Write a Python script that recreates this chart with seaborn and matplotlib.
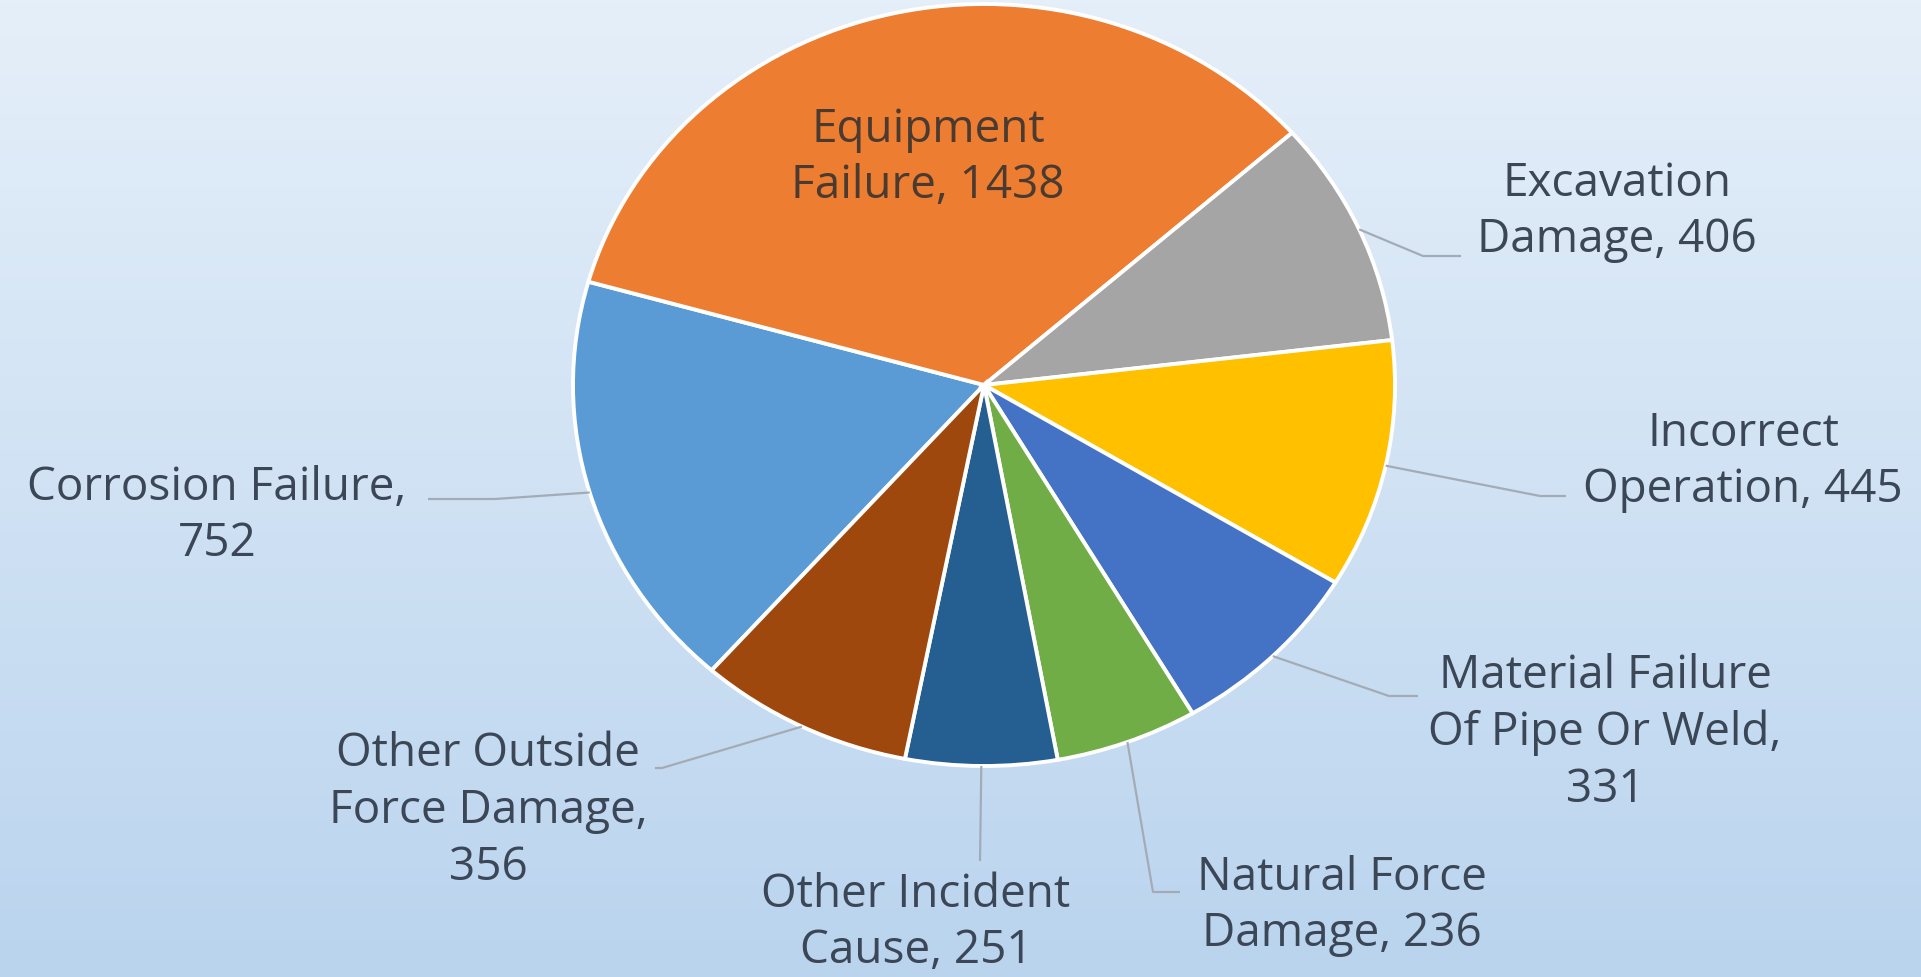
import numpy as np
import matplotlib.pyplot as plt
import matplotlib.font_manager as fm
from matplotlib.colors import LinearSegmentedColormap
import seaborn as sns

# data (Excel order, first slice = Corrosion)
causes = ['Corrosion Failure', 'Equipment Failure', 'Excavation Damage', 'Incorrect Operation',
          'Material Failure Of Pipe Or Weld', 'Natural Force Damage', 'Other Incident Cause',
          'Other Outside Force Damage']
counts = [752, 1438, 406, 445, 331, 236, 251, 356]
label_text = ['Corrosion Failure,\n752', 'Equipment\nFailure, 1438', 'Excavation\nDamage, 406',
              'Incorrect\nOperation, 445', 'Material Failure\nOf Pipe Or Weld,\n331',
              'Natural Force\nDamage, 236', 'Other Incident\nCause, 251',
              'Other Outside\nForce Damage,\n356']
colors = ['#5B9BD5', '#ED7D31', '#A5A5A5', '#FFC000', '#4472C4', '#70AD47', '#255E91', '#9E480E']

sns.set_style('white')
names = {f.name for f in fm.fontManager.ttflist}
fam = [f for f in ['Open Sans', 'DejaVu Sans'] if f in names]
plt.rcParams['font.family'] = fam

W, H = 1921, 978
cx, cy, rx, ry = 984, 386, 411, 381   # pie centre / radii in pixels


def px(x, y):
    return (x - cx) / rx, (cy - y) / ry


fig = plt.figure(figsize=(W / 100, H / 100), dpi=100)
ax = fig.add_axes([0, 0, 1, 1])

x0, y1 = px(0, 0)
x1, y0 = px(W, H)

bg = LinearSegmentedColormap.from_list('bg', ['#E5EFF9', '#D0E2F4', '#BAD4EE'])
ax.imshow(np.linspace(0, 1, 256).reshape(-1, 1), cmap=bg, extent=[x0, x1, y0, y1],
          aspect='auto', zorder=0)

wedges, _ = ax.pie(counts, colors=colors, startangle=228.5, counterclock=False, radius=1,
                   wedgeprops=dict(edgecolor='white', linewidth=2.8))
for w in wedges:
    w.set_zorder(2)

ax.set_aspect('auto')
ax.set_xlim(x0, x1)
ax.set_ylim(y0, y1)
ax.axis('off')

# label layout (pixel positions): text centre, leader elbow, leader end
layout = {
    'Corrosion Failure': ((217, 516), (495, 500), (428, 500)),
    'Equipment Failure': ((928, 158), None, None),
    'Excavation Damage': ((1617, 212), (1423, 257), (1461, 257)),
    'Incorrect Operation': ((1743, 462), (1540, 497), (1566, 497)),
    'Material Failure Of Pipe Or Weld': ((1605, 733), (1389, 697), (1418, 697)),
    'Natural Force Damage': ((1342, 906), (1153, 893), (1180, 893)),
    'Other Incident Cause': ((916, 923), (980, 862), (980, 862)),
    'Other Outside Force Damage': ((488, 811), (662, 769), (655, 769)),
}

for w, name, txt in zip(wedges, causes, label_text):
    (tx, ty), elbow, end = layout[name]
    mid = np.deg2rad((w.theta1 + w.theta2) / 2)
    col = '#4a3a30' if name == 'Equipment Failure' else '#3b4656'
    ax.text(*px(tx, ty), txt, ha='center', va='center', fontsize=33, color=col,
            linespacing=1.3, zorder=4)
    if elbow is not None:
        ex, ey = px(*elbow)
        nx, ny = px(*end)
        ax.plot([np.cos(mid), ex, nx], [np.sin(mid), ey, ny], color='#a3acb6', lw=1.6,
                zorder=3, solid_capstyle='butt')

fig.savefig('out.png', dpi=100)
